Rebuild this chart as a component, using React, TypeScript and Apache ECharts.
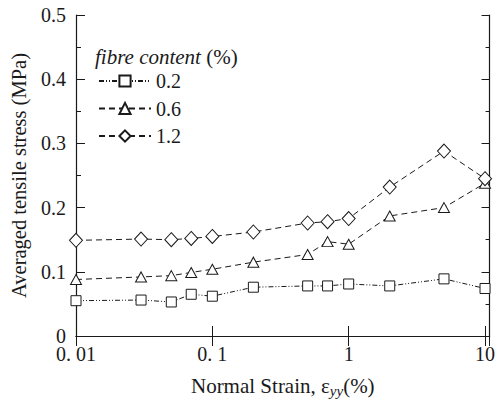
import React, { useEffect, useRef } from "react";
import * as echarts from "echarts";

const strain = [0.01, 0.03, 0.05, 0.07, 0.1, 0.2, 0.5, 0.7, 1, 2, 5, 10];
const fibre02 = [0.055, 0.056, 0.053, 0.065, 0.062, 0.076, 0.078, 0.078, 0.081, 0.078, 0.089, 0.074];
const fibre06 = [0.088, 0.092, 0.094, 0.099, 0.104, 0.115, 0.127, 0.147, 0.143, 0.187, 0.2, 0.238];
const fibre12 = [0.149, 0.151, 0.15, 0.152, 0.155, 0.162, 0.176, 0.178, 0.183, 0.232, 0.288, 0.245];
const seriesNames = ["0.2", "0.6", "1.2"];
const xTickLabels: Record<string, string> = { "0.01": "0. 01", "0.1": "0. 1", "1": "1", "10": "10" };

const FONT = "'Liberation Serif', 'Times New Roman', serif";
const INK = "#1a1a1a";

export default function App() {
  const ref = useRef<HTMLDivElement>(null);
  useEffect(() => {
    if (!ref.current) return;
    const chart = echarts.init(ref.current, undefined, { renderer: "svg" });
    const pair = (ys: number[]) => strain.map((x, i) => [x, ys[i]]);
    const common = {
      type: "line",
      itemStyle: { color: "#fff", borderColor: INK, borderWidth: 1 },
      emphasis: { disabled: true },
    };
    chart.setOption({
      animation: false,
      backgroundColor: "#fff",
      textStyle: { fontFamily: FONT },
      grid: { left: 73.5, right: 2.5, top: 15, bottom: 68 },
      graphic: [
        {
          type: "text",
          left: 95,
          top: 46,
          style: {
            text: "{i|fibre content} (%)",
            fontFamily: FONT,
            fontSize: 21,
            fill: INK,
            rich: { i: { fontStyle: "italic", fontSize: 21, fontFamily: FONT, fill: INK } },
          },
        },
      ],
      legend: {
        orient: "vertical",
        left: 93,
        top: 66,
        itemWidth: 52,
        itemHeight: 14,
        itemGap: 7.5,
        textStyle: { fontFamily: FONT, fontSize: 20, color: INK },
        data: seriesNames,
      },
      xAxis: [
        {
          type: "log",
          logBase: 10,
          min: 0.01,
          max: 10.8,
          name: "Normal Strain, ε{sub|yy}(%)",
          nameLocation: "middle",
          nameGap: 38,
          nameTextStyle: {
            fontFamily: FONT,
            fontSize: 21,
            color: INK,
            rich: { sub: { fontFamily: FONT, fontStyle: "italic", fontSize: 15, color: INK, verticalAlign: "bottom", padding: [9, 0, 0, 0] } },
          },
          axisLine: { lineStyle: { color: INK, width: 1.2 } },
          axisTick: { inside: true, length: 10, lineStyle: { color: INK } },
          minorTick: { show: false },
          splitLine: { show: false },
          axisLabel: {
            fontFamily: FONT,
            fontSize: 20,
            color: INK,
            margin: 8,
            showMaxLabel: false,
            hideOverlap: false,
            formatter: (v: number) => {
              const k = String(+v.toPrecision(6));
              return xTickLabels[k] ?? "";
            },
          },
        },
        {
          type: "log",
          logBase: 10,
          min: 0.01,
          max: 10.8,
          position: "top",
          axisLine: { lineStyle: { color: INK, width: 1.2 } },
          axisTick: { inside: true, length: 10, lineStyle: { color: INK } },
          splitLine: { show: false },
          axisLabel: { show: false },
        },
      ],
      yAxis: [
        {
          type: "value",
          min: 0,
          max: 0.5,
          interval: 0.1,
          name: "Averaged tensile stress (MPa)",
          nameLocation: "middle",
          nameGap: 47,
          nameTextStyle: { fontFamily: FONT, fontSize: 20.5, color: INK },
          axisLine: { show: true, lineStyle: { color: INK, width: 1.2 } },
          axisTick: { inside: true, length: 9, lineStyle: { color: INK } },
          minorTick: { show: true, splitNumber: 2, length: 5, lineStyle: { color: INK } },
          splitLine: { show: false },
          axisLabel: { fontFamily: FONT, fontSize: 20, color: INK, margin: 10 },
        },
        {
          type: "value",
          min: 0,
          max: 0.5,
          interval: 0.1,
          position: "right",
          axisLine: { show: true, lineStyle: { color: INK, width: 1.2 } },
          axisTick: { inside: true, length: 8, lineStyle: { color: INK } },
          minorTick: { show: true, splitNumber: 2, length: 4, lineStyle: { color: INK } },
          splitLine: { show: false },
          axisLabel: { show: false },
        },
      ],
      series: [
        {
          ...common,
          name: seriesNames[0],
          data: pair(fibre02),
          symbol: "rect",
          symbolSize: 10,
          lineStyle: { color: INK, width: 1, type: [5, 2, 1, 2, 1, 2] },
        },
        {
          ...common,
          name: seriesNames[1],
          data: pair(fibre06),
          symbol: "triangle",
          symbolSize: [11, 10],
          lineStyle: { color: INK, width: 1, type: [6, 4] },
        },
        {
          ...common,
          name: seriesNames[2],
          data: pair(fibre12),
          symbol: "diamond",
          symbolSize: [13, 14],
          lineStyle: { color: INK, width: 1, type: [6, 4] },
        },
      ],
    });
    return () => chart.dispose();
  }, []);
  return <div ref={ref} style={{ width: 498, height: 404, position: "absolute", left: 0, top: 0 }} />;
}
